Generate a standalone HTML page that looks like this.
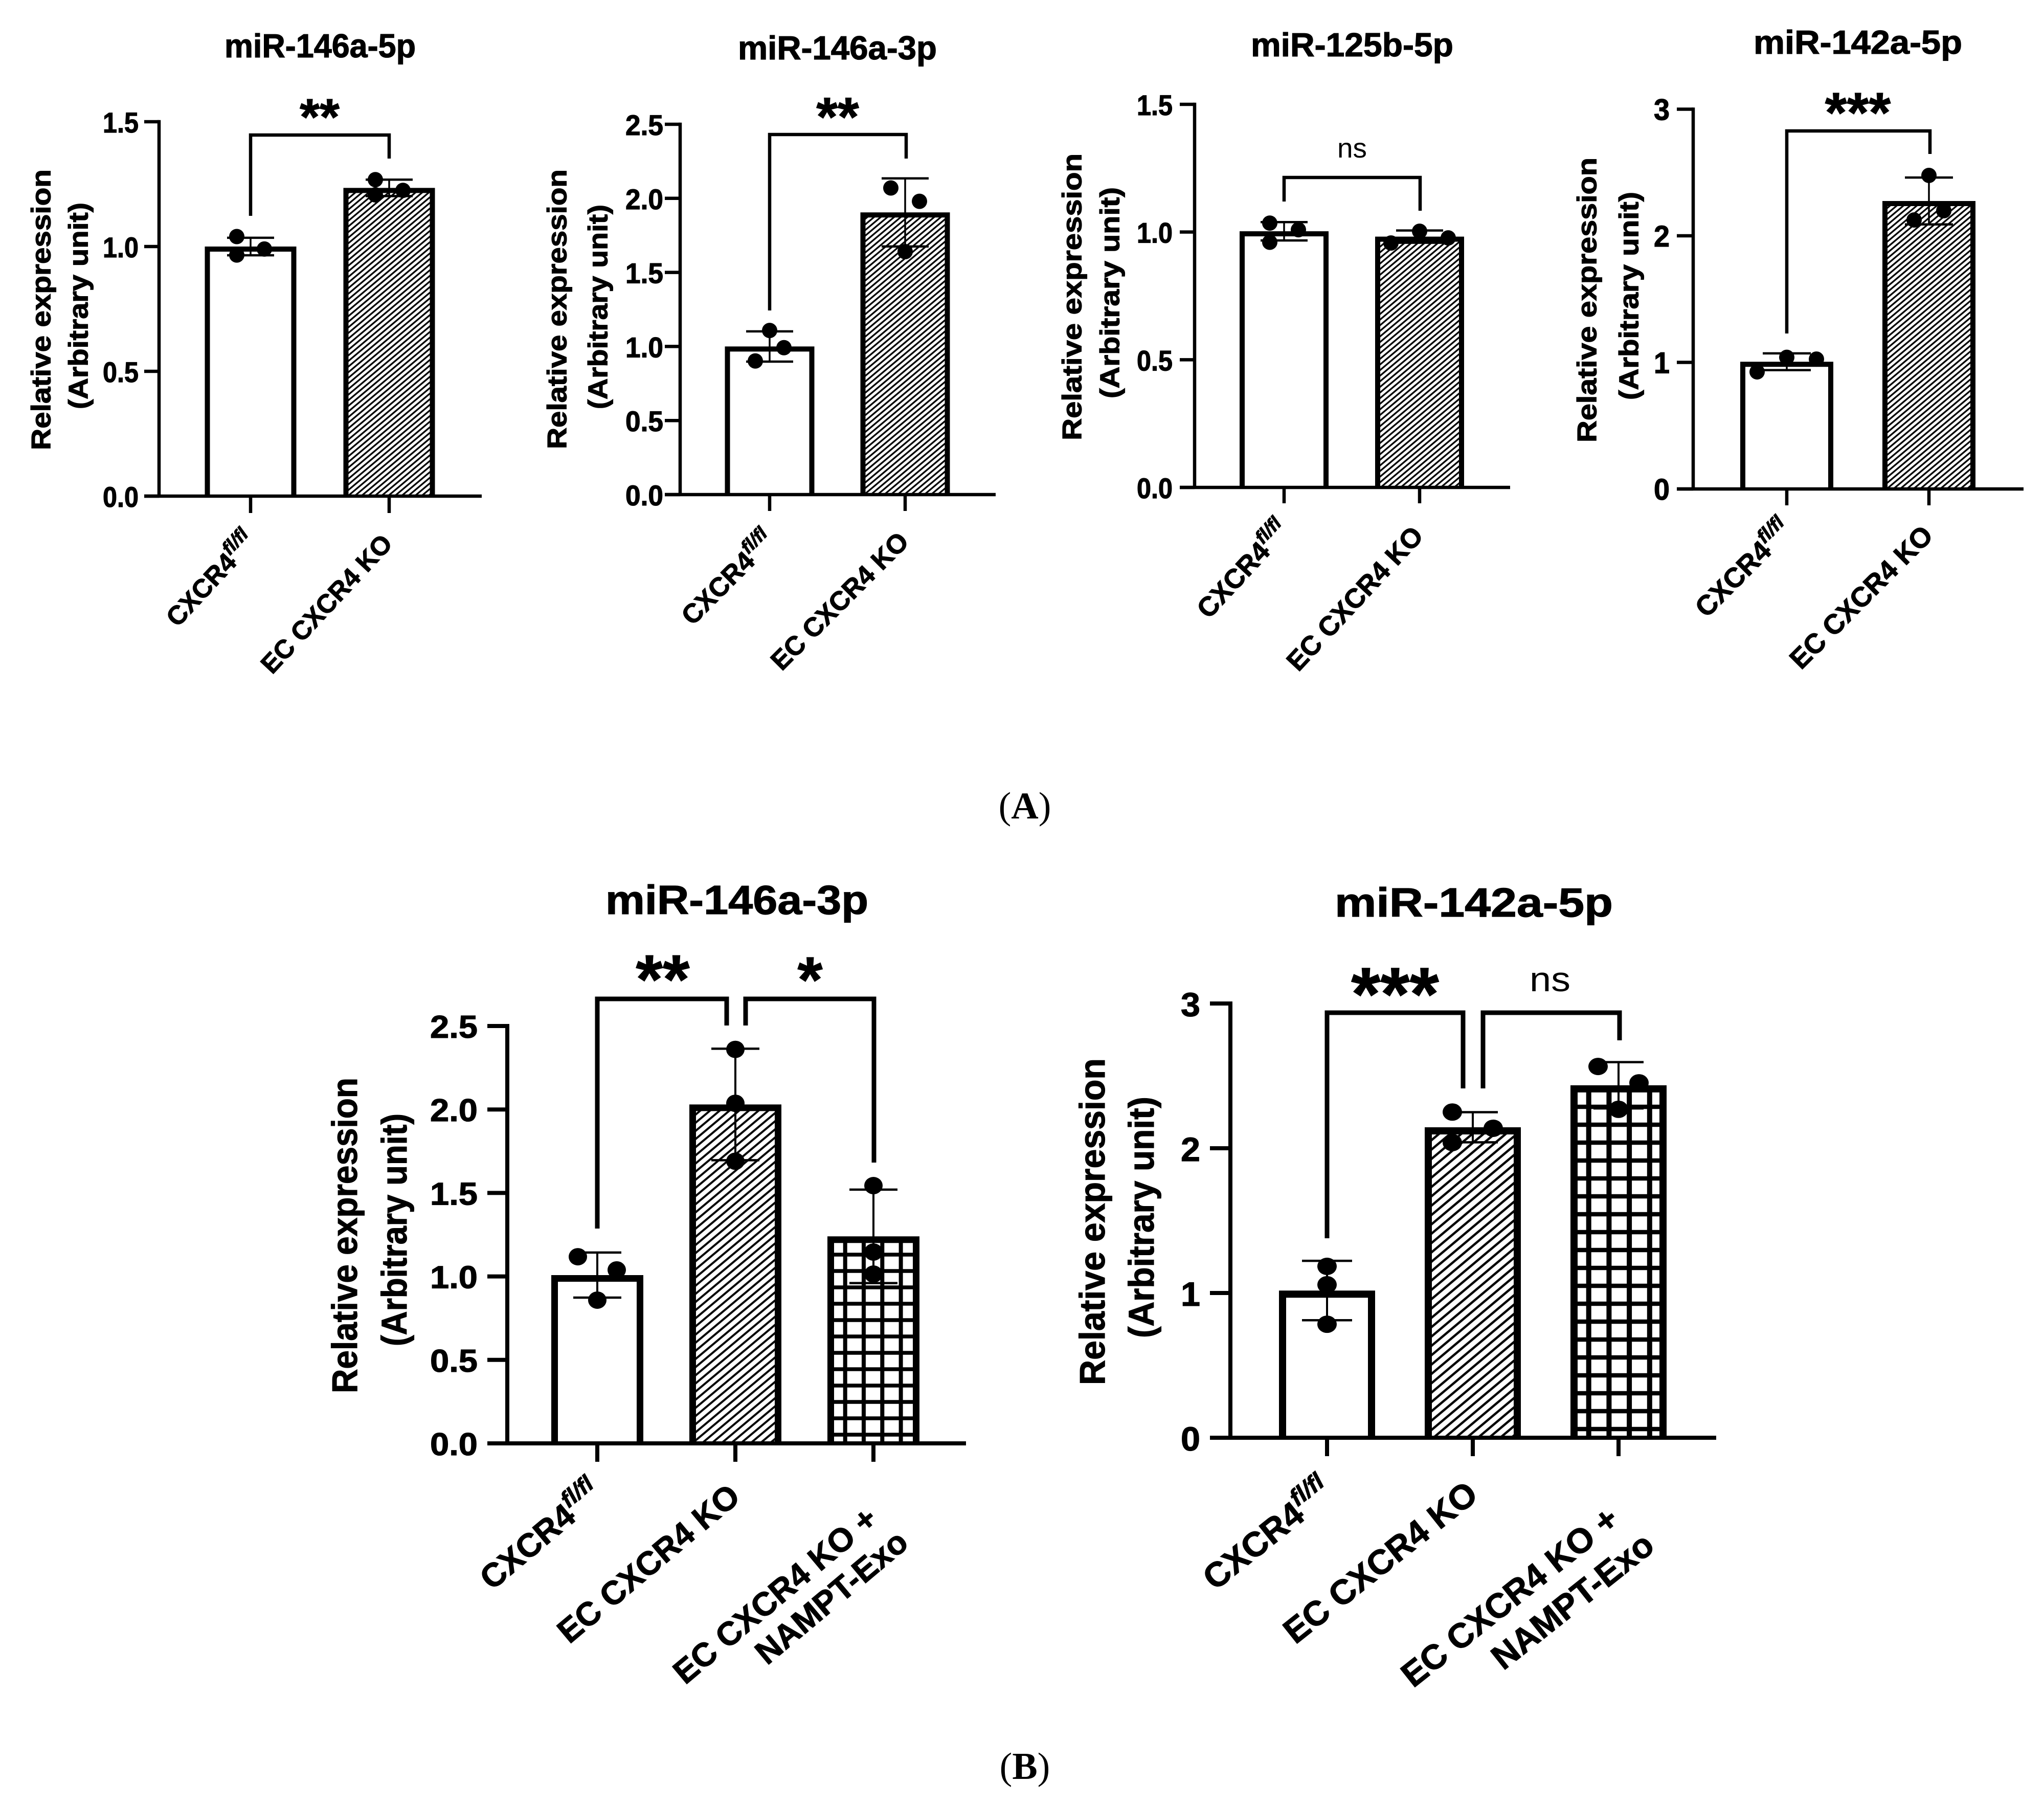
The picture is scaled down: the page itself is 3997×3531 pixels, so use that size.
<!DOCTYPE html>
<html lang="en">
<head>
<meta charset="utf-8">
<title>miRNA relative expression bar charts</title>
<style>
html,body{margin:0;padding:0;background:#fff}
svg{display:block}
text{fill:#000;font-family:"Liberation Sans",Arial,sans-serif}
text[font-weight=bold]{stroke:#000;stroke-width:1.2px}
.cap{font-family:"Liberation Serif",serif;font-size:74px}
</style>
</head>
<body>
<svg id="figure" xmlns="http://www.w3.org/2000/svg" width="3997" height="3531" viewBox="0 0 3997 3531">
<rect width="3997" height="3531" fill="#fff"/>
<defs id="defs"></defs>
<g id="charts"></g>
<text class="cap" x="2004" y="1600" text-anchor="middle">(<tspan font-weight="bold">A</tspan>)</text>
<text class="cap" x="2004" y="3478" text-anchor="middle">(<tspan font-weight="bold">B</tspan>)</text>
</svg>
<script>
// ---- chart 1: miR-146a-5p
const c1Categories = ['CXCR4^fl/fl', 'EC CXCR4 KO'];
const c1Means = [1.0, 1.235];
const c1Sd = [0.035, 0.033];
const c1Points = [[1.04, 0.99, 0.966], [1.268, 1.225, 1.207]];
const c1Slots = [[-1, 1, -1], [-1, 1, -1]];
const c1Ticks = [0, 0.5, 1, 1.5];
const c1TickLabels = ['0.0', '0.5', '1.0', '1.5'];
// ---- chart 2: miR-146a-3p
const c2Categories = ['CXCR4^fl/fl', 'EC CXCR4 KO'];
const c2Means = [1.0, 1.905];
const c2Sd = [0.102, 0.23];
const c2Points = [[1.108, 0.992, 0.902], [2.07, 1.98, 1.64]];
const c2Slots = [[0, 1, -1], [-1, 1, 0]];
const c2Ticks = [0, 0.5, 1, 1.5, 2, 2.5];
const c2TickLabels = ['0.0', '0.5', '1.0', '1.5', '2.0', '2.5'];
// ---- chart 3: miR-125b-5p
const c3Categories = ['CXCR4^fl/fl', 'EC CXCR4 KO'];
const c3Means = [1.003, 0.982];
const c3Sd = [0.036, 0.024];
const c3Points = [[1.035, 1.009, 0.96], [0.957, 1.003, 0.977]];
const c3Slots = [[-1, 1, -1], [-2, 0, 2]];
const c3Ticks = [0, 0.5, 1, 1.5];
const c3TickLabels = ['0.0', '0.5', '1.0', '1.5'];
// ---- chart 4: miR-142a-5p
const c4Categories = ['CXCR4^fl/fl', 'EC CXCR4 KO'];
const c4Means = [1.005, 2.275];
const c4Sd = [0.066, 0.185];
const c4Points = [[0.925, 1.04, 1.026], [2.477, 2.198, 2.125]];
const c4Slots = [[-2, 0, 2], [0, 1, -1]];
const c4Ticks = [0, 1, 2, 3];
const c4TickLabels = ['0', '1', '2', '3'];
// ---- chart 5: miR-146a-3p (panel B)
const c5Categories = ['CXCR4^fl/fl', 'EC CXCR4 KO', 'EC CXCR4 KO +\nNAMPT-Exo'];
const c5Means = [1.008, 2.03, 1.24];
const c5Sd = [0.135, 0.334, 0.28];
const c5Points = [[1.118, 1.039, 0.858], [2.36, 2.037, 1.69], [1.544, 1.146, 1.014]];
const c5Slots = [[-1, 1, 0], [0, 0, 0], [0, 0, 0]];
const c5Ticks = [0, 0.5, 1, 1.5, 2, 2.5];
const c5TickLabels = ['0.0', '0.5', '1.0', '1.5', '2.0', '2.5'];
// ---- chart 6: miR-142a-5p (panel B)
const c6Categories = ['CXCR4^fl/fl', 'EC CXCR4 KO', 'EC CXCR4 KO +\nNAMPT-Exo'];
const c6Means = [1.017, 2.145, 2.435];
const c6Sd = [0.205, 0.104, 0.16];
const c6Points = [[1.184, 1.057, 0.784], [2.25, 2.138, 2.039], [2.565, 2.452, 2.269]];
const c6Slots = [[0, 0, 0], [-1, 1, -1], [-1, 1, 0]];
const c6Ticks = [0, 1, 2, 3];
const c6TickLabels = ['0', '1', '2', '3'];

// ---- layout (pixel geometry lives here, values live above)
const charts = [
 {key:'a1', title:'miR-146a-5p', cats:c1Categories, means:c1Means, sd:c1Sd, pts:c1Points, slots:c1Slots, ticks:c1Ticks, tickLabels:c1TickLabels,
  tX:439,tLen:374,tBase:112,tF:65, axisX:311,y0:970,yTop:238,xEnd:942,tickLeft:282,tickBottom:1003,x0:490,step:271,barW:179,bw:10,axisW:6.5,
  capHalf:46,dotRx:15,dotRy:15,slot:27,errW:3.5,capW:4.5, tickR:271,tickLen:70,tickF:56,tickB:21,
  yt:{f:53,x1:60,x2:133,r1:[331,880],r2:[396,800]}, labF:51,supF:37,angle:47, labA:[[[13,1061]],[[9,1065]]],
  hatch:{p:8.4,w:3.3}, brW:6.5, brackets:[[[490,422],[490,264],[761,264],[761,310]]],
  sig:[{s:'**',cx:625,base:263,f:100,bold:1}]},
 {key:'a2', title:'miR-146a-3p', cats:c2Categories, means:c2Means, sd:c2Sd, pts:c2Points, slots:c2Slots, ticks:c2Ticks, tickLabels:c2TickLabels,
  tX:1443,tLen:389,tBase:116,tF:65, axisX:1330,y0:967,yTop:243,xEnd:1947,tickLeft:1300,tickBottom:999,x0:1505,step:265,barW:175,bw:10,axisW:6.5,
  capHalf:46,dotRx:15,dotRy:15,slot:28,errW:3.5,capW:4.5, tickR:1297,tickLen:74,tickF:56,tickB:21,
  yt:{f:53,x1:1069,x2:1149,r1:[331,878],r2:[400,800]}, labF:52,supF:37,angle:45, labA:[[[13,1061]],[[10,1062]]],
  hatch:{p:8.4,w:3.3}, brW:6.5, brackets:[[[1505,607],[1505,263],[1772,263],[1772,310]]],
  sig:[{s:'**',cx:1638,base:265,f:107,bold:1}]},
 {key:'a3', title:'miR-125b-5p', cats:c3Categories, means:c3Means, sd:c3Sd, pts:c3Points, slots:c3Slots, ticks:c3Ticks, tickLabels:c3TickLabels,
  tX:2446,tLen:396,tBase:110,tF:65, axisX:2336,y0:953,yTop:204,xEnd:2953,tickLeft:2307,tickBottom:984,x0:2511,step:265,barW:174,bw:10,axisW:6.5,
  capHalf:46,dotRx:15,dotRy:15,slot:28,errW:3.5,capW:4.5, tickR:2293,tickLen:70,tickF:56,tickB:21,
  yt:{f:53,x1:2076,x2:2150,r1:[300,861],r2:[366,779]}, labF:53,supF:37,angle:47, labA:[[[13,1040]],[[10,1050]]],
  hatch:{p:8.4,w:3.3}, brW:6.5, brackets:[[[2511,394],[2511,347],[2777,347],[2777,412]]],
  sig:[{s:'ns',cx:2644,base:308,f:54,len:58,bold:0}]},
 {key:'a4', title:'miR-142a-5p', cats:c4Categories, means:c4Means, sd:c4Sd, pts:c4Points, slots:c4Slots, ticks:c4Ticks, tickLabels:c4TickLabels,
  tX:3429,tLen:408,tBase:105,tF:65, axisX:3311,y0:956,yTop:213.5,xEnd:3957,tickLeft:3279,tickBottom:988,x0:3494,step:278,barW:182,bw:10,axisW:6.5,
  capHalf:47,dotRx:15,dotRy:15,slot:29,errW:3.5,capW:4.5, tickR:3265,tickLen:31,tickF:58,tickB:21,
  yt:{f:53,x1:3083,x2:3165,r1:[308,865],r2:[375,782]}, labF:54,supF:38,angle:45, labA:[[[13,1040]],[[11,1050]]],
  hatch:{p:8.4,w:3.3}, brW:6.5, brackets:[[[3494,652],[3494,256],[3774,256],[3774,301]]],
  sig:[{s:'***',cx:3633,base:258,f:110,bold:1}]},
 {key:'b1', title:'miR-146a-3p', cats:c5Categories, means:c5Means, sd:c5Sd, pts:c5Points, slots:c5Slots, ticks:c5Ticks, tickLabels:c5TickLabels,
  tX:1184,tLen:514,tBase:1787,tF:80, axisX:992,y0:2822,yTop:2006,xEnd:1889,tickLeft:953,tickBottom:2858,x0:1168,step:270,barW:180,bw:13,axisW:8,
  capHalf:47,dotRx:18,dotRy:17,slot:38,errW:4,capW:4.5, tickR:934,tickLen:93,tickF:62,tickB:23,
  yt:{f:70,x1:647,x2:744,r1:[2107,2724],r2:[2177,2632]}, labF:64.5,supF:45,angle:40, labA:[[[13,2927]],[[13,2932]],[[12,2976],[72,3022]]],
  hatch:{p:12.2,w:4}, grid:{px:36.3,py:32,lx:1652.7,ly:2517,wx:8,wy:7.5}, brW:9,
  brackets:[[[1168,2402],[1168,1953],[1421,1953],[1421,2005]],[[1458,2005],[1458,1953],[1709,1953],[1709,2273]]],
  sig:[{s:'**',cx:1296,base:1961,f:135,bold:1},{s:'*',cx:1584,base:1959,f:126,bold:1}]},
 {key:'b2', title:'miR-142a-5p', cats:c6Categories, means:c6Means, sd:c6Sd, pts:c6Points, slots:c6Slots, ticks:c6Ticks, tickLabels:c6TickLabels,
  tX:2610,tLen:544,tBase:1792,tF:80, axisX:2406,y0:2811,yTop:1962,xEnd:3356,tickLeft:2366,tickBottom:2847,x0:2595,step:285,barW:188,bw:14,axisW:8,
  capHalf:49,dotRx:19,dotRy:17,slot:40,errW:4,capW:4.5, tickR:2347,tickLen:38,tickF:66,tickB:25,
  yt:{f:70,x1:2109,x2:2205,r1:[2069,2708],r2:[2144,2616]}, labF:67.5,supF:47,angle:38.5, labA:[[[15,2925]],[[14,2929]],[[5,2978],[74,3029]]],
  hatch:{p:14,w:4.5}, grid:{px:39.7,py:35,lx:3106.7,ly:2164,wx:10,wy:8.5}, brW:9,
  brackets:[[[2595,2421],[2595,1980],[2861,1980],[2861,2128]],[[2900,2128],[2900,1980],[3167,1980],[3167,2034]]],
  sig:[{s:'***',cx:2728,base:1994,f:147,bold:1},{s:'ns',cx:3031,base:1938,f:68,len:80,bold:0}]}
];

const NS = 'http://www.w3.org/2000/svg';
const root = document.getElementById('charts');
const defs = document.getElementById('defs');
function mk(tag, attrs, parent) {
  const el = document.createElementNS(NS, tag);
  for (const k in attrs) el.setAttribute(k, attrs[k]);
  if (parent) parent.appendChild(el);
  return el;
}
function seg(parent, x1, y1, x2, y2, w) {
  return mk('line', {x1:x1, y1:y1, x2:x2, y2:y2, stroke:'#000', 'stroke-width':w}, parent);
}

charts.forEach(function (c) {
  const yMax = Math.max.apply(null, c.ticks);
  const yScale = function (v) { return c.y0 - v / yMax * (c.y0 - c.yTop); };
  const xScale = function (i) { return c.x0 + i * c.step; };

  const g = mk('g', {}, root);
  
  

  // fill patterns
  const hatch = mk('pattern', {id:'hatch-' + c.key, patternUnits:'userSpaceOnUse', width:c.hatch.p, height:c.hatch.p, patternTransform:'rotate(-40)'}, defs);
  mk('rect', {width:c.hatch.p, height:c.hatch.p, fill:'#fff'}, hatch);
  mk('rect', {y:(c.hatch.p - c.hatch.w) / 2, width:c.hatch.p, height:c.hatch.w, fill:'#000'}, hatch);
  if (c.grid) {
    const gr = c.grid;
    const gp = mk('pattern', {id:'grid-' + c.key, patternUnits:'userSpaceOnUse', width:gr.px, height:gr.py, x:gr.lx - gr.px / 2, y:gr.ly - gr.py / 2}, defs);
    mk('rect', {width:gr.px, height:gr.py, fill:'#fff'}, gp);
    mk('rect', {x:(gr.px - gr.wx) / 2, width:gr.wx, height:gr.py, fill:'#000'}, gp);
    mk('rect', {y:(gr.py - gr.wy) / 2, width:gr.px, height:gr.wy, fill:'#000'}, gp);
  }

  // title
  const title = mk('text', {x:c.tX, y:c.tBase, 'font-size':c.tF, 'font-weight':'bold', textLength:c.tLen, lengthAdjust:'spacingAndGlyphs'}, g);
  title.textContent = c.title;
  
  

  // y axis title
  [['Relative expression', c.yt.x1, c.yt.r1], ['(Arbitrary unit)', c.yt.x2, c.yt.r2]].forEach(function (t) {
    const base = t[1] + 0.73 * c.yt.f;
    const len = t[2][1] - t[2][0];
    const mid = (t[2][0] + t[2][1]) / 2;
    const yt = mk('text', {transform:'translate(' + base + ' ' + mid + ') rotate(-90)', x:-len / 2, y:0, 'font-size':c.yt.f, 'font-weight':'bold', textLength:len, lengthAdjust:'spacingAndGlyphs'}, g);
    yt.textContent = t[0];
    
    
  });

  // bars (open at the baseline, the x axis closes them)
  c.means.forEach(function (m, i) {
    const cx = xScale(i);
    const top = yScale(m) + c.bw / 2;
    const left = cx - c.barW / 2 + c.bw / 2;
    const right = cx + c.barW / 2 - c.bw / 2;
    let fill = '#fff';
    if (i === 1) fill = 'url(#hatch-' + c.key + ')';
    if (i === 2) fill = 'url(#grid-' + c.key + ')';
    const bar = mk('path', {d:'M' + left + ' ' + c.y0 + 'V' + top + 'H' + right + 'V' + c.y0, fill:fill, stroke:'#000', 'stroke-width':c.bw}, g);
    
    
  });

  // error bars
  c.means.forEach(function (m, i) {
    const cx = xScale(i);
    const hi = yScale(m + c.sd[i]);
    const lo = yScale(m - c.sd[i]);
    const eg = mk('g', {}, g);
    
    
    seg(eg, cx, hi, cx, lo, c.errW);
    seg(eg, cx - c.capHalf, hi, cx + c.capHalf, hi, c.capW);
    seg(eg, cx - c.capHalf, lo, cx + c.capHalf, lo, c.capW);
  });

  // data points
  c.pts.forEach(function (group, i) {
    group.forEach(function (v, j) {
      const dot = mk('ellipse', {cx:xScale(i) + c.slots[i][j] * c.slot, cy:yScale(v), rx:c.dotRx, ry:c.dotRy, fill:'#000'}, g);
      
      
    });
  });

  // axes
  const yAxis = seg(g, c.axisX, c.yTop - c.axisW / 2, c.axisX, c.y0, c.axisW);
  
  
  const xAxis = seg(g, c.tickLeft, c.y0, c.xEnd, c.y0, c.axisW);
  
  

  // y ticks
  c.ticks.forEach(function (t, i) {
    const yy = yScale(t);
    const tk = seg(g, c.tickLeft, yy, c.axisX, yy, c.axisW);
    
    
    const lab = mk('text', {x:c.tickR - c.tickLen, y:yy + c.tickB, 'font-size':c.tickF, 'font-weight':'bold', textLength:c.tickLen, lengthAdjust:'spacingAndGlyphs'}, g);
    lab.textContent = c.tickLabels[i];
    
    
  });

  // x ticks and category labels
  c.cats.forEach(function (name, i) {
    const cx = xScale(i);
    const tk = seg(g, cx, c.y0, cx, c.tickBottom, c.axisW);
    
    
    name.split('\n').forEach(function (line, k) {
      const a = c.labA[i][k];
      const parts = line.split('^');
      const lab = mk('text', {transform:'translate(' + (cx + a[0]) + ' ' + a[1] + ') rotate(' + (-c.angle) + ')', x:0, y:0, 'text-anchor':'end', 'font-size':c.labF, 'font-weight':'bold'}, g);
      
      
      mk('tspan', {}, lab).textContent = parts[0];
      if (parts[1]) {
        const sup = mk('tspan', {'font-size':c.supF, 'font-style':'italic', dy:-c.labF * 0.42}, lab);
        sup.textContent = parts[1];
      }
    });
  });

  // significance brackets
  c.brackets.forEach(function (b) {
    const br = mk('polyline', {points:b.map(function (p) { return p.join(','); }).join(' '), fill:'none', stroke:'#000', 'stroke-width':c.brW, 'stroke-linejoin':'miter'}, g);
    
    
  });
  c.sig.forEach(function (s) {
    const at = {x:s.cx, y:s.base, 'text-anchor':'middle', 'font-size':s.f};
    if (s.bold) at['font-weight'] = 'bold';
    if (s.len) { at.x = s.cx - s.len / 2; at['text-anchor'] = 'start'; at.textLength = s.len; at.lengthAdjust = 'spacingAndGlyphs'; }
    const st = mk('text', at, g);
    st.textContent = s.s;
    
    
  });
});
</script>
</body>
</html>
